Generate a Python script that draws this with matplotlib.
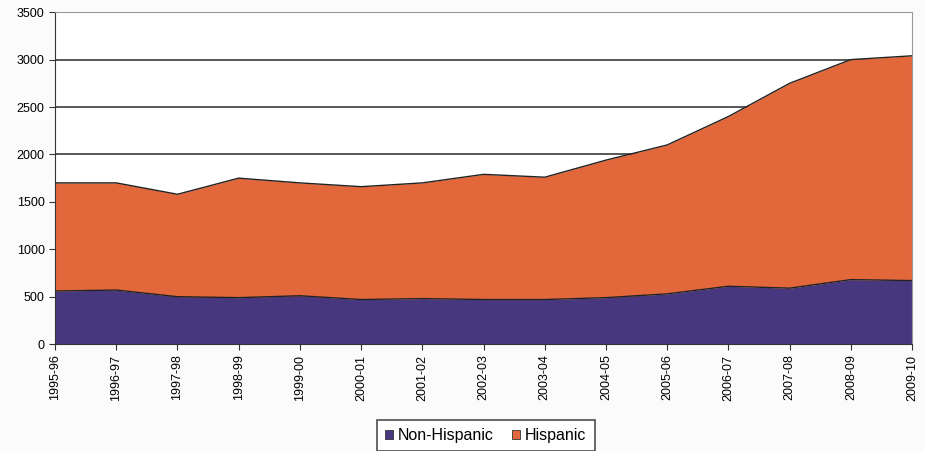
import numpy as np
import matplotlib
matplotlib.use("Agg")
import matplotlib.pyplot as plt
from matplotlib.patches import Patch

plt.rcParams['font.family'] = ['Liberation Sans', 'DejaVu Sans']

years = ['1995-96', '1996-97', '1997-98', '1998-99', '1999-00', '2000-01', '2001-02',
         '2002-03', '2003-04', '2004-05', '2005-06', '2006-07', '2007-08', '2008-09', '2009-10']
non_hispanic = [560, 570, 500, 490, 510, 470, 480, 470, 470, 490, 530, 610, 590, 680, 670]
hispanic = [1140, 1130, 1080, 1260, 1190, 1190, 1220, 1320, 1290, 1450, 1570, 1790, 2160, 2320, 2370]

c_non = '#46377f'
c_his = '#e2683c'

x = np.arange(len(years))
nh = np.array(non_hispanic)
tot = nh + np.array(hispanic)

fig = plt.figure(figsize=(9.25, 4.51), dpi=100)
fig.patch.set_facecolor('#fbfbfb')
ax = fig.add_axes([0.0595, 0.237, 0.9265, 0.736])
ax.set_facecolor('white')

for v in range(500, 4000, 500):
    ax.axhline(v, color='#4a4a4a', lw=1.3, zorder=1)

ax.fill_between(x, 0, nh, color=c_non, lw=0, zorder=2)
ax.fill_between(x, nh, tot, color=c_his, lw=0, zorder=2)
ax.plot(x, nh, color='#222222', lw=1, zorder=3)
ax.plot(x, tot, color='#222222', lw=1, zorder=3)

ax.set_xlim(0, len(years) - 1)
ax.set_ylim(0, 3500)
ax.set_yticks(range(0, 4000, 500))
ax.set_xticks(x)
ax.set_xticklabels(years, rotation=90, fontsize=9)
ax.tick_params(axis='y', labelsize=9, length=4, direction='out', color='#333333')
ax.tick_params(axis='x', length=4, direction='out', color='#333333')

ax.spines['left'].set_color('#333333')
ax.spines['bottom'].set_color('#333333')
ax.spines['right'].set_color('#999999')
ax.spines['top'].set_color('#999999')

handles = [Patch(facecolor=c_non, edgecolor='#333333', lw=0.6),
           Patch(facecolor=c_his, edgecolor='#333333', lw=0.6)]
leg = fig.legend(handles, ['Non-Hispanic', 'Hispanic'], loc='upper center',
                 bbox_to_anchor=(0.525, 0.069), ncol=2, fontsize=11.5, frameon=True,
                 fancybox=False, edgecolor='#222222', handlelength=0.5, handleheight=0.5,
                 handletextpad=0.35, columnspacing=1.1, borderpad=0.5, borderaxespad=0)
leg.get_frame().set_linewidth(1.2)

fig.savefig('out.png', dpi=100, facecolor=fig.get_facecolor())
